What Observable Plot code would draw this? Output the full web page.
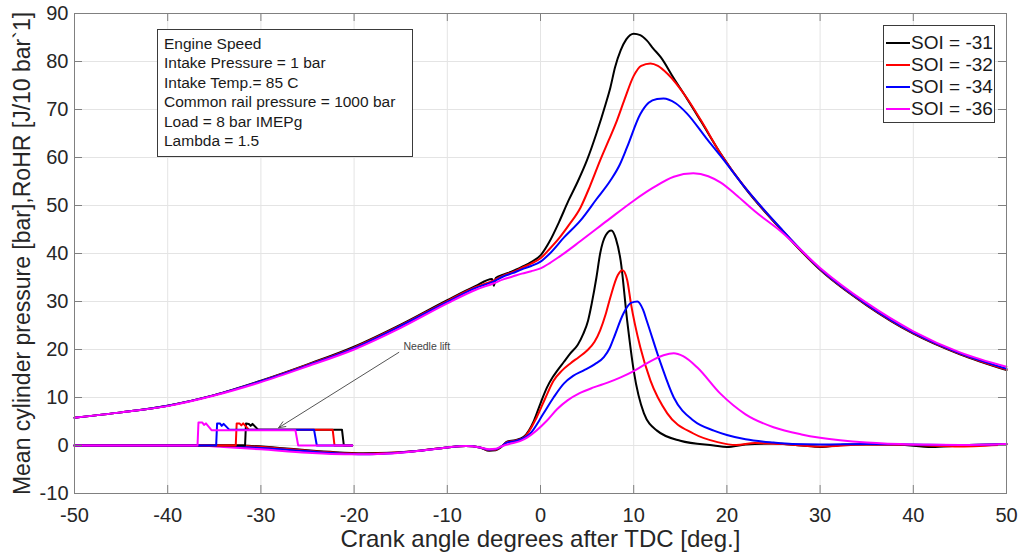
<!DOCTYPE html>
<html><head><meta charset="utf-8">
<script src="https://cdn.jsdelivr.net/npm/d3@7"></script>
<script src="https://cdn.jsdelivr.net/npm/@observablehq/plot@0.6"></script>
<style>
body{margin:0;background:#fff;font-family:"Liberation Sans",Arial,Helvetica,sans-serif;}
#wrap{position:relative;width:1022px;height:560px;overflow:hidden;}
.box{position:absolute;background:#fff;border:1px solid #3a3a3a;color:#1a1a1a;box-sizing:border-box;}
#info{left:157px;top:29px;width:256px;height:128px;padding:4px 0 0 6px;font-size:15.5px;line-height:19.4px;}
#legend{left:883px;top:25px;width:112px;height:98px;padding-top:6px;font-size:19px;}
.row{height:22px;display:flex;align-items:center;white-space:nowrap;}
.sw{width:24px;height:2px;margin-left:2px;margin-right:1px;}
</style></head><body><div id="wrap"></div>
<script>
const xTicks = [-50,-40,-30,-20,-10,0,10,20,30,40,50];
const yTicks = [-10,0,10,20,30,40,50,60,70,80,90];
const seriesNames = ["SOI = -31","SOI = -32","SOI = -34","SOI = -36"];
const seriesColors = ["#000000","#ff0000","#0000ff","#ff00ff"];
const infoLines = ["Engine Speed","Intake Pressure = 1 bar","Intake Temp.= 85 C","Common rail pressure = 1000 bar","Load = 8 bar IMEPg","Lambda = 1.5"];
const xLabel = "Crank angle degrees after TDC [deg.]";
const yLabel = "Mean cylinder pressure [bar],RoHR [J/10 bar`1]";
const needleNote = {text:"Needle lift", x:-14.7, y:20.6, x1:-15.2, y1:19.4, x2:-28.1, y2:3.7};

// Cylinder pressure [bar]
const pressure31 = [[-50,5.8],[-45,6.9],[-40,8.3],[-35,10.5],[-30,13.5],[-25,16.9],[-20,20.6],[-15,25.2],[-10,30.3],[-7,33.2],[-5.2,34.7],[-5,33.3],[-4.8,34.9],[-4,35.6],[-3,36.3],[-2,37.2],[-1,38.2],[0,39.6],[1,42.6],[2,46.6],[3,51],[4,55],[5,59.5],[6,65],[7,71.2],[7.5,74.6],[8,78.8],[8.6,82.3],[9.2,84.6],[10,85.8],[10.7,85.5],[11.4,84.4],[12.1,82.7],[12.9,80.9],[14.3,76.5],[15.7,72.3],[17.2,67.6],[19.3,60.9],[22,53.5],[25.8,45],[30,36.6],[35,29.2],[40,23.3],[45,19],[50,15.7]];
const pressure32 = [[-50,5.8],[-45,6.9],[-40,8.3],[-35,10.5],[-30,13.4],[-25,16.8],[-20,20.4],[-15,25],[-10,30.1],[-7,33],[-5,34.4],[-4,35.4],[-3,36.1],[-2,37],[-1,37.9],[0,39],[1,41],[2,43.2],[3,45.8],[4.3,49.6],[5.3,54],[6.4,59.4],[7.3,63.5],[8.2,67.7],[9,72],[10,77],[10.8,79.1],[11.8,79.6],[12.6,79.1],[13.6,77.5],[15.7,72.4],[17.2,67.8],[19.3,60.9],[22,53.6],[25.8,45.1],[30,36.7],[35,29.3],[40,23.4],[45,19.1],[50,15.8]];
const pressure34 = [[-50,5.8],[-45,6.9],[-40,8.3],[-35,10.5],[-30,13.4],[-25,16.7],[-20,20.3],[-15,24.9],[-10,29.9],[-7,32.8],[-5,34.2],[-4,35.2],[-3,35.9],[-2,36.7],[-1,37.4],[0,38.3],[1,40],[2.5,43.3],[4.3,46.9],[6,51.3],[7.5,55.2],[8.5,58.5],[9.3,62.2],[10.7,69],[11.6,71.4],[12.5,72.2],[13.2,72.3],[14.5,71.3],[15.7,69.2],[17.8,64],[19.3,60.4],[22,53.6],[25.8,45.2],[30,36.8],[35,29.4],[40,23.5],[45,19.2],[50,16]];
const pressure36 = [[-50,5.8],[-45,6.9],[-40,8.2],[-35,10.4],[-30,13.2],[-25,16.5],[-20,20],[-15,24.5],[-10,29.6],[-7,32.4],[-5,33.8],[-4,34.6],[-3,35.2],[-2,35.8],[-1,36.3],[0,36.9],[1,38],[2,39.3],[4.3,42.6],[7.2,46.9],[10,51],[12,53.6],[14.3,56],[16.4,56.7],[18,56.1],[19.3,54.8],[21,52.2],[23,48.8],[25.8,44.6],[30,37],[35,29.7],[40,23.8],[45,19.4],[50,16.4]];

// Rate of heat release
const rohr31 = [[-50,0],[-40,0],[-32,0],[-31,-0.1],[-28,-0.5],[-25,-1],[-22,-1.4],[-19,-1.6],[-16,-1.5],[-13,-1.1],[-10,-0.4],[-8,-0.1],[-6.5,-0.4],[-5.5,-1.1],[-4.8,-1],[-4.2,-0.3],[-3.6,0.8],[-2.7,1.1],[-1.8,1.8],[-0.7,5.2],[0,8.8],[0.7,12.1],[1.3,14.2],[1.8,15.6],[2.5,17.4],[3.2,19.2],[4,21],[4.6,23.3],[5.1,26],[5.5,29.6],[6,35],[6.4,40],[7,43.8],[7.6,44.8],[8.1,43],[8.6,38.5],[9.3,26],[10,15.6],[11.1,6.7],[12.5,3.1],[15,1],[18.6,0],[20,-0.3],[22,0.2],[25,0.4],[28,0],[30,-0.3],[33,0.2],[38,0.2],[42,-0.3],[45,0],[50,0.3]];
const rohr32 = [[-50,0],[-40,0],[-33,0],[-31,-0.2],[-28,-0.6],[-25,-1.1],[-22,-1.5],[-19,-1.7],[-16,-1.5],[-13,-1.1],[-10,-0.4],[-8,-0.1],[-6.5,-0.4],[-5.5,-1],[-4.8,-0.9],[-4.2,-0.2],[-3.6,0.7],[-2.7,1],[-1.8,1.6],[-0.4,5.9],[0.5,9.8],[1.4,13.5],[2.3,15.6],[3.2,17.1],[4.1,18.4],[5,19.8],[5.8,21.6],[6.4,24],[7,27.4],[7.5,30.9],[8.3,35.5],[8.8,36.5],[9.3,34.5],[9.7,29.6],[10.7,20.5],[11.8,13.5],[13.6,6.7],[16.4,2.5],[19,0.7],[21,0.1],[23,0.5],[26,0.3],[30,-0.2],[35,0.2],[40,0.1],[45,-0.2],[50,0.2]];
const rohr34 = [[-50,0],[-40,0],[-35,0],[-33,-0.2],[-30,-0.5],[-25,-1.2],[-22,-1.6],[-19,-1.8],[-16,-1.6],[-13,-1.1],[-10,-0.4],[-8,-0.1],[-6.5,-0.4],[-5.5,-0.9],[-4.8,-0.8],[-4.2,-0.2],[-3.6,0.6],[-2.7,0.9],[-1.1,2.5],[0.3,6.6],[1.4,10],[2.5,12.9],[3.5,14.5],[4.6,15.6],[5.8,16.9],[6.8,18.4],[7.4,20.2],[7.9,22.6],[8.9,27.5],[9.7,29.7],[10.4,30],[11,28.3],[11.4,26],[12.9,17.1],[14.3,10],[16.4,5.2],[18.6,3.1],[20,2.2],[22,1.3],[25,0.6],[27,0.3],[30,0.2],[35,0.3],[40,0.2],[45,0.1],[50,0.3]];
const rohr36 = [[-50,0],[-40,0],[-37,0],[-34,-0.3],[-30,-0.8],[-25,-1.5],[-21,-1.8],[-18,-1.8],[-15,-1.5],[-12,-0.9],[-10,-0.4],[-8,-0.1],[-6.5,-0.4],[-5.5,-0.8],[-4.8,-0.7],[-4.2,-0.2],[-3.2,0.4],[-2.2,0.9],[-1.4,1.7],[0.7,5.2],[1.8,7.6],[2.9,9.4],[4.2,10.9],[5.7,12.1],[7.2,13.1],[8.6,14.2],[10,15.5],[11.4,17.1],[13.2,18.8],[14.3,19.2],[15.3,18.6],[16.8,16.3],[19.3,10.8],[22,6.5],[25,3.8],[28,2.3],[30,1.6],[35,0.6],[40,0.2],[45,0.1],[50,0.3]];

// Needle lift traces
const needle31 = [[-50,0],[-31.7,0],[-31.6,4.6],[-31.3,4.5],[-31.1,4.1],[-30.9,4.5],[-30.3,3.3],[-21.3,3.3],[-21.1,0],[-20.2,0]];
const needle32 = [[-50,0],[-32.7,0],[-32.6,4.6],[-32.3,4.6],[-32.1,4.2],[-31.9,4.6],[-31.3,3.3],[-22.3,3.3],[-22.1,0],[-20.2,0]];
const needle34 = [[-50,0],[-34.8,0],[-34.7,4.6],[-34.4,4.6],[-34.2,4.1],[-34.0,4.5],[-33.4,3.3],[-24.3,3.3],[-24.0,0],[-20.2,0]];
const needle36 = [[-50,0],[-36.8,0],[-36.7,4.8],[-36.3,4.8],[-36.1,4.3],[-35.9,4.6],[-35.3,3.2],[-26.3,3.2],[-26.0,0],[-20.2,0]];

const pressures = [pressure31, pressure32, pressure34, pressure36];
const rohrs = [rohr31, rohr32, rohr34, rohr36];
const needles = [needle31, needle32, needle34, needle36];

const W = 1022, H = 560, mL = 74, mR = 16, mT = 13, mB = 67;
const innerW = W - mL - mR, innerH = H - mT - mB;
const tickLen = 8;
const axisColor = "#808080";
const textColor = "#262626";

const lineMarks = [];
pressures.forEach((d, i) => lineMarks.push(Plot.line(d, {x: "0", y: "1", stroke: seriesColors[i], strokeWidth: 2, curve: "monotone-x"})));
rohrs.forEach((d, i) => lineMarks.push(Plot.line(d, {x: "0", y: "1", stroke: seriesColors[i], strokeWidth: 2, curve: "monotone-x"})));
needles.forEach((d, i) => lineMarks.push(Plot.line(d, {x: "0", y: "1", stroke: seriesColors[i], strokeWidth: 2})));

const chart = Plot.plot({
  width: W, height: H,
  marginLeft: mL, marginRight: mR, marginTop: mT, marginBottom: mB,
  style: {fontFamily: "'Liberation Sans', Arial, Helvetica, sans-serif", background: "#fff", overflow: "visible"},
  x: {domain: [-50, 50]},
  y: {domain: [-10, 90]},
  marks: [
    Plot.gridX(xTicks, {stroke: "#e4e4e4", strokeOpacity: 1}),
    Plot.gridY(yTicks, {stroke: "#e4e4e4", strokeOpacity: 1}),
    ...lineMarks,
    Plot.arrow([needleNote], {x1: "x1", y1: "y1", x2: "x2", y2: "y2", stroke: "#555", strokeWidth: 1, headLength: 11, headAngle: 45}),
    Plot.text([needleNote], {x: "x", y: "y", text: "text", textAnchor: "start", fontSize: 10.5, fill: "#444"}),
    Plot.frame({stroke: axisColor}),
    Plot.ruleX(xTicks, {x: d => d, insetTop: innerH - tickLen, stroke: axisColor}),
    Plot.ruleX(xTicks, {x: d => d, insetBottom: innerH - tickLen, stroke: axisColor}),
    Plot.ruleY(yTicks, {y: d => d, insetRight: innerW - tickLen, stroke: axisColor}),
    Plot.ruleY(yTicks, {y: d => d, insetLeft: innerW - tickLen, stroke: axisColor}),
    Plot.axisX({ticks: xTicks, tickSize: 0, tickPadding: 14, fontSize: 20, fill: textColor, label: null, tickFormat: d => String(d)}),
    Plot.axisY({ticks: yTicks, tickSize: 0, tickPadding: 6, fontSize: 20, fill: textColor, label: null, tickFormat: d => String(d)}),
    Plot.text([xLabel], {frameAnchor: "bottom", textAnchor: "middle", dy: 53, fontSize: 24, fill: textColor}),
    Plot.text([yLabel], {frameAnchor: "left", textAnchor: "middle", dx: -52, rotate: -90, fontSize: 23, fill: textColor})
  ]
});

const wrap = document.getElementById("wrap");
wrap.appendChild(chart);

const info = document.createElement("div");
info.className = "box"; info.id = "info";
infoLines.forEach(t => { const r = document.createElement("div"); r.textContent = t; info.appendChild(r); });
wrap.appendChild(info);

const legend = document.createElement("div");
legend.className = "box"; legend.id = "legend";
seriesNames.forEach((n, i) => {
  const r = document.createElement("div"); r.className = "row";
  const s = document.createElement("span"); s.className = "sw"; s.style.background = seriesColors[i];
  const t = document.createElement("span"); t.textContent = n;
  r.appendChild(s); r.appendChild(t); legend.appendChild(r);
});
wrap.appendChild(legend);
</script>
</body></html>
